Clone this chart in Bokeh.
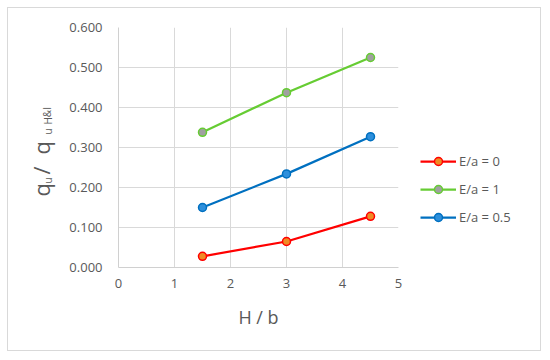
from bokeh.plotting import figure
from bokeh.layouts import row
from bokeh.models import FixedTicker, NumeralTickFormatter, Legend, LegendItem, Label, Range1d
from bokeh.embed import file_html
from bokeh.resources import INLINE

# data
hb = [1.5, 3.0, 4.5]
ea0 = [0.028, 0.065, 0.128]
ea1 = [0.338, 0.437, 0.525]
ea05 = [0.150, 0.234, 0.327]
x_ticks = [0, 1, 2, 3, 4, 5]
y_ticks = [0.0, 0.1, 0.2, 0.3, 0.4, 0.5, 0.6]
names = ["E/a = 0", "E/a = 1", "E/a = 0.5"]
line_colors = ["#FF0000", "#66CC33", "#0070C0"]
fill_colors = ["#F08A24", "#A0A0A0", "#2D8FDC"]
y_title_parts = [("q", "main"), ("u", "sub"), ("/", "main"), ("q", "main"), ("u", "sub"), ("H&I", "sub")]

FONT = "Open Sans"
GREY = "#595959"
H = 342


def blank_fig(w, xr=(0, 1)):
    f = figure(width=w, height=H, output_backend="svg", toolbar_location=None,
               x_range=Range1d(*xr), y_range=Range1d(0, 1), title=None,
               x_axis_type=None, y_axis_type=None, min_border=0)
    f.outline_line_color = None
    f.grid.visible = False
    f.background_fill_color = "white"
    f.border_fill_color = "white"
    return f


# ---- left strip: y-axis title with subscripts ----
lf = blank_fig(58)
pos = [(32, 71), (39, 84), (32, 93), (32, 113), (39, 133), (39, 143)]
for (txt, kind), (sx, sy) in zip(y_title_parts, pos):
    lf.add_layout(Label(x=sx, y=sy, x_units="screen", y_units="screen", text=txt, angle=1.5708,
                        text_font=FONT, text_font_size="22px" if kind == "main" else "10px",
                        text_color=GREY, text_align="left", text_baseline="alphabetic"))

# ---- main plot ----
p = figure(width=342, height=H, output_backend="svg", toolbar_location=None,
           x_range=Range1d(0, 5), y_range=Range1d(0, 0.6), title=None,
           min_border_left=50, min_border_right=10, min_border_top=19, min_border_bottom=83)
p.outline_line_color = None
p.background_fill_color = "white"
p.border_fill_color = "white"

for ax in (p.xaxis[0], p.yaxis[0]):
    ax.major_tick_line_color = None
    ax.minor_tick_line_color = None
    ax.major_tick_out = 0
    ax.major_tick_in = 0
    ax.minor_tick_out = 0
    ax.minor_tick_in = 0
    ax.axis_line_color = "#D0D0D0"
    ax.major_label_text_color = GREY
    ax.major_label_text_font = FONT
    ax.major_label_text_font_size = "13px"
    ax.axis_label_text_font = FONT
    ax.axis_label_text_color = GREY
    ax.axis_label_text_font_style = "normal"

p.xaxis.ticker = FixedTicker(ticks=x_ticks)
p.yaxis.ticker = FixedTicker(ticks=y_ticks)
p.yaxis.formatter = NumeralTickFormatter(format="0.000")
p.xaxis.major_label_standoff = 11
p.yaxis.major_label_standoff = 16
p.xaxis.axis_label = "H / b"
p.xaxis.axis_label_text_font_size = "18px"
p.xaxis.axis_label_standoff = 14

p.grid.grid_line_color = "#D9D9D9"
p.grid.grid_line_width = 1
p.xgrid.ticker = FixedTicker(ticks=x_ticks)
p.ygrid.ticker = FixedTicker(ticks=y_ticks)

series = [ea0, ea1, ea05]
for ys, col, fill in zip(series, line_colors, fill_colors):
    p.line(hb, ys, line_color=col, line_width=2.25)
    p.scatter(hb, ys, size=8, marker="circle", line_color=col, fill_color=fill, line_width=1.5)

# ---- right strip: legend (its own copies of the series lie outside this strip's range) ----
rf = blank_fig(132, xr=(100, 101))
items = []
for name, ys, col, fill in zip(names, series, line_colors, fill_colors):
    l1 = rf.line(hb, ys, line_color=col, line_width=2.25)
    l2 = rf.scatter(hb, ys, size=8, marker="circle", line_color=col, fill_color=fill, line_width=1.5)
    items.append(LegendItem(label=name, renderers=[l1, l2]))
legend = Legend(items=items, location=(12, 40), orientation="vertical",
                glyph_width=36, glyph_height=20, spacing=8, label_standoff=3,
                padding=0, margin=0, border_line_color=None, background_fill_alpha=0,
                label_text_font=FONT, label_text_font_size="13px", label_text_color=GREY)
rf.add_layout(legend, "center")

layout = row(lf, p, rf, spacing=0)
layout.styles = {"border": "1px solid #D9D9D9", "margin-left": "7px", "margin-top": "7px"}

open("out.html", "w").write(file_html(layout, INLINE))
